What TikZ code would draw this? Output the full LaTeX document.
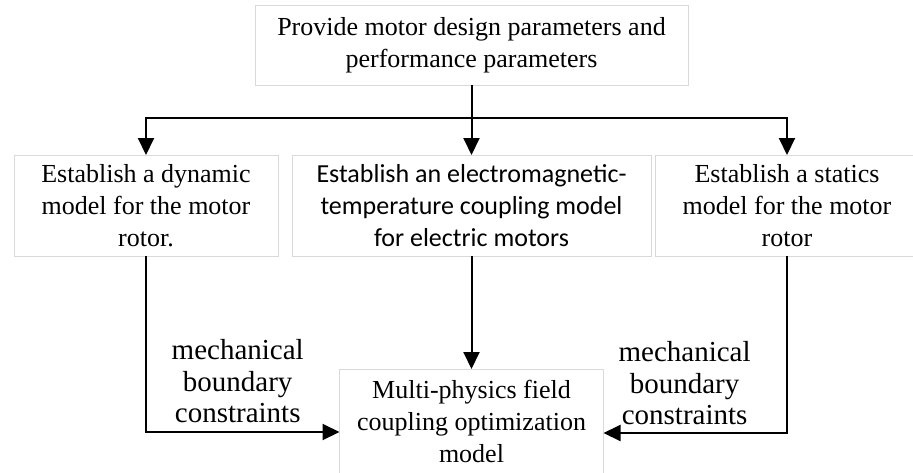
\documentclass[tikz,border=0pt]{standalone}
\usepackage{fontspec}
\setmainfont{Liberation Serif}
\newfontfamily\calibrifont{Carlito}
\usepackage{tikz}
\usetikzlibrary{arrows.meta, positioning}

\begin{document}
\begin{tikzpicture}[
  x=1pt, y=-1pt,
  node distance=70pt and 14pt,
  block/.style={
    rectangle, draw=gray!30, line width=1pt,
    align=center, inner sep=0pt, outer sep=0pt,
    minimum width=264pt, minimum height=101pt,
    font=\fontsize{26}{32}\selectfont
  },
  note/.style={
    align=center, inner sep=0pt,
    font=\fontsize{29}{31.5}\selectfont
  },
  line/.style={draw, -{Triangle[length=17pt, width=16pt]}, line width=2pt}
]
  \useasboundingbox (0,0) rectangle (913,472);

  \node [block, minimum width=433pt, minimum height=80pt] (prov) at (471.5,45)
    {Provide motor design parameters and\\ performance parameters};
  \node [block, minimum width=359pt, below=70pt of prov, font=\calibrifont\fontsize{26}{32}\selectfont] (emt)
    {Establish an electromagnetic-\\ temperature coupling model\\ for electric motors};
  \node [block, left=14pt of emt] (dyn) {Establish a dynamic\\ model for the motor\\ rotor.};
  \node [block, right=4pt of emt] (stat) {Establish a statics\\ model for the motor\\ rotor};
  \node [block, below=113pt of emt, minimum height=105pt] (opt)
    {Multi-physics field\\ coupling optimization\\ model};

  \coordinate (bus) at (471.5,118);

  \path [line] (prov) -- (emt);
  \path [line] (bus) -| (dyn);
  \path [line] (bus) -| (stat);
  \path [line] (emt) -- (opt);
  \path [line] (dyn) |- node[note, pos=0.737, above=8pt] {mechanical\\ boundary\\ constraints} ([yshift=-10.5pt]opt.west);
  \path [line] (stat) |- node[note, pos=0.779, above=7pt] {mechanical\\ boundary\\ constraints} ([yshift=-11.5pt]opt.east);

\end{tikzpicture}
\end{document}
